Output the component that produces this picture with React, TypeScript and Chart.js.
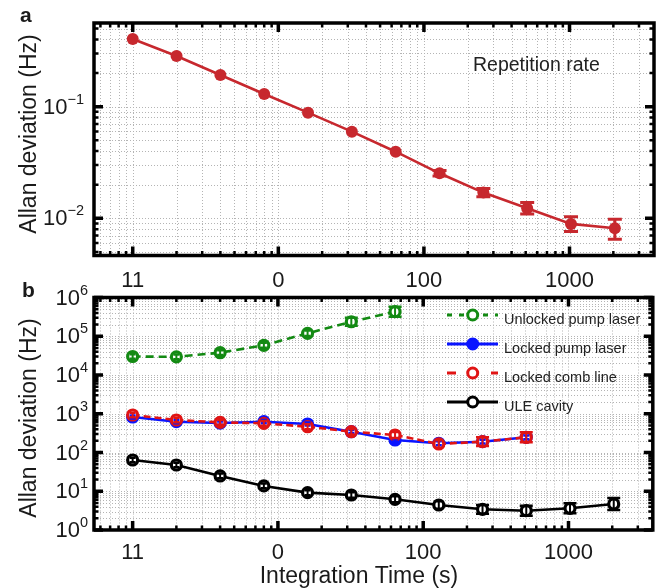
import React, { useEffect, useRef } from 'react';
import { Chart, registerables } from 'chart.js';

Chart.register(...registerables);

const FONT = "'Liberation Sans', Arial, Helvetica, sans-serif";
const TEXT = '#1a1a1a';

// ---------- data ----------
const integrationTime = [1, 2, 4, 8, 16, 32, 64, 128, 256, 512, 1024, 2048];

const repRate = [0.404, 0.284, 0.192, 0.13, 0.0884, 0.0597, 0.0395, 0.0253, 0.017, 0.0123, 0.00891, 0.00815];
const repRateLow = [0.395, 0.278, 0.188, 0.127, 0.0864, 0.0583, 0.0379, 0.0239, 0.0156, 0.01095, 0.0076, 0.00648];
const repRateHigh = [0.413, 0.29, 0.196, 0.133, 0.0904, 0.0611, 0.0411, 0.0268, 0.0185, 0.01384, 0.01035, 0.0098];

const unlockedPump = [30000, 29500, 37600, 58400, 119000, 237000, 430000];
const unlockedPumpErr = [1.15, 1.15, 1.15, 1.16, 1.18, 1.27, 1.35];
const lockedPump = [824, 624, 575, 624, 544, 344, 210, 173, 190, 247];
const lockedPumpErr = [1.1, 1.1, 1.1, 1.1, 1.1, 1.1, 1.1, 1.12, 1.12, 1.12];
const lockedComb = [929, 690, 600, 567, 463, 344, 283, 166, 190, 247];
const lockedCombErr = [1.15, 1.15, 1.15, 1.15, 1.16, 1.18, 1.2, 1.25, 1.3, 1.35];
const uleCavity = [64, 47.6, 24.8, 13.7, 9.2, 8.0, 6.2, 4.42, 3.42, 3.15, 3.63, 4.69];
const uleCavityErr = [1.15, 1.15, 1.15, 1.15, 1.16, 1.18, 1.2, 1.25, 1.3, 1.35, 1.35, 1.43];

const seriesLabels = ['Unlocked pump laser', 'Locked pump laser', 'Locked comb line', 'ULE cavity'];

const xTickValues = [1, 10, 100, 1000];
const xTickLabels = ['11', '0', '100', '1000'];
const yTickValuesA = [0.1, 0.01];
const yTickExpA = ['\u22121', '\u22122'];
const yTickValuesB = [1, 10, 100, 1000, 10000, 100000, 1000000];
const yTickExpB = ['0', '1', '2', '3', '4', '5', '6'];

const xRange = [0.542, 3804];
const yRangeA = [0.004645, 0.5614];
const yRangeB = [1, 1000000];

const yTitle = 'Allan deviation (Hz)';
const xTitle = 'Integration Time (s)';
const panelAText = 'Repetition rate';

// ---------- styles ----------
const RED_A = '#c7282e';
const GREEN = '#138a13';
const BLUE = '#0a14ff';
const RED = '#e01414';
const BLACK = '#000000';

function logValues(min: number, max: number) {
  const out: { v: number; major: boolean }[] = [];
  const k0 = Math.floor(Math.log10(min)) - 1;
  const k1 = Math.ceil(Math.log10(max)) + 1;
  for (let k = k0; k <= k1; k++) {
    for (let m = 1; m <= 9; m++) {
      const v = parseFloat((m * Math.pow(10, k)).toPrecision(6));
      if (v >= min * 0.9999 && v <= max * 1.0001) out.push({ v, major: m === 1 });
    }
  }
  return out;
}

function makePlugin(cfg: any) {
  return {
    id: 'decor',
    beforeDatasetsDraw(chart: any) {
      const ctx = chart.ctx;
      const { left, right, top, bottom } = chart.chartArea;
      const xs = chart.scales.x;
      const ys = chart.scales.y;
      ctx.save();
      ctx.strokeStyle = '#b4b4b4';
      ctx.lineWidth = 1;
      ctx.setLineDash([1, 2]);
      logValues(xs.min, xs.max).forEach((t) => {
        const px = Math.round(xs.getPixelForValue(t.v)) + 0.5;
        ctx.beginPath();
        ctx.moveTo(px, top);
        ctx.lineTo(px, bottom);
        ctx.stroke();
      });
      logValues(ys.min, ys.max).forEach((t) => {
        const py = Math.round(ys.getPixelForValue(t.v)) + 0.5;
        ctx.beginPath();
        ctx.moveTo(left, py);
        ctx.lineTo(right, py);
        ctx.stroke();
      });
      ctx.restore();
    },
    afterDatasetsDraw(chart: any) {
      const ctx = chart.ctx;
      const { left, right, top, bottom } = chart.chartArea;
      const xs = chart.scales.x;
      const ys = chart.scales.y;
      ctx.save();
      // error bars
      chart.data.datasets.forEach((ds: any) => {
        if (!ds.errLow) return;
        ctx.strokeStyle = ds.borderColor;
        ctx.setLineDash([]);
        ds.data.forEach((p: any, i: number) => {
          const px = xs.getPixelForValue(p.x);
          const yl = ys.getPixelForValue(ds.errLow[i]);
          const yh = ys.getPixelForValue(ds.errHigh[i]);
          ctx.lineWidth = cfg.errWidth;
          ctx.beginPath();
          ctx.moveTo(px, yl);
          ctx.lineTo(px, yh);
          ctx.stroke();
          if (Math.abs(yl - yh) > cfg.capMin) {
            const ch = Math.abs(yl - yh) > cfg.capBig ? cfg.capHalf : cfg.capSmall;
            ctx.lineWidth = cfg.capWidth;
            ctx.beginPath();
            ctx.moveTo(px - ch, yl);
            ctx.lineTo(px + ch, yl);
            ctx.moveTo(px - ch, yh);
            ctx.lineTo(px + ch, yh);
            ctx.stroke();
          }
        });
      });
      // frame
      ctx.strokeStyle = '#000';
      ctx.lineWidth = 3.5;
      ctx.strokeRect(left, top, right - left, bottom - top);
      // ticks
      logValues(xs.min, xs.max).forEach((t) => {
        const px = xs.getPixelForValue(t.v);
        const len = t.major ? 9 : 4.5;
        ctx.lineWidth = t.major ? 3.5 : 2.5;
        ctx.beginPath();
        ctx.moveTo(px, bottom);
        ctx.lineTo(px, bottom - len);
        ctx.moveTo(px, top);
        ctx.lineTo(px, top + len);
        ctx.stroke();
      });
      logValues(ys.min, ys.max).forEach((t) => {
        const py = ys.getPixelForValue(t.v);
        const len = t.major ? 9 : 4.5;
        ctx.lineWidth = t.major ? 3.5 : 2.5;
        ctx.beginPath();
        ctx.moveTo(left, py);
        ctx.lineTo(left + len, py);
        ctx.moveTo(right, py);
        ctx.lineTo(right - len, py);
        ctx.stroke();
      });
      // x tick labels
      ctx.fillStyle = TEXT;
      ctx.font = `22px ${FONT}`;
      ctx.textAlign = 'center';
      ctx.textBaseline = 'middle';
      xTickValues.forEach((v, i) => {
        ctx.fillText(xTickLabels[i], xs.getPixelForValue(v), bottom + cfg.xLabelOffset);
      });
      // y tick labels with superscripts
      cfg.yTicks.forEach((v: number, i: number) => {
        const py = ys.getPixelForValue(v);
        ctx.font = `14.5px ${FONT}`;
        const ew = ctx.measureText(cfg.yExp[i]).width;
        ctx.textAlign = 'left';
        ctx.textBaseline = 'middle';
        ctx.fillText(cfg.yExp[i], cfg.yLabelRight - ew, py - 7);
        ctx.font = `22px ${FONT}`;
        ctx.textAlign = 'right';
        ctx.fillText('10', cfg.yLabelRight - ew, py + 1);
      });
      // y title
      ctx.save();
      ctx.translate(cfg.yTitleX, cfg.yTitleY);
      ctx.rotate(-Math.PI / 2);
      ctx.font = `23px ${FONT}`;
      ctx.textAlign = 'center';
      ctx.textBaseline = 'middle';
      ctx.fillText(yTitle, 0, 0);
      ctx.restore();
      // panel letter
      ctx.font = `bold 21px ${FONT}`;
      ctx.textAlign = 'left';
      ctx.textBaseline = 'alphabetic';
      ctx.fillText(cfg.letter, cfg.letterX, cfg.letterY);
      if (cfg.extra) cfg.extra(ctx, chart);
      ctx.restore();
    },
  };
}

function drawLegend(ctx: any) {
  const items = [
    { color: GREEN, dash: [5, 7], fill: '#fff' },
    { color: BLUE, dash: [], fill: BLUE },
    { color: RED, dash: [9, 13], fill: '#fff' },
    { color: BLACK, dash: [], fill: '#fff' },
  ];
  const x0 = 447;
  const x1 = 498;
  const mx = 472.7;
  const rowY = [315, 344, 373, 402];
  items.forEach((it, i) => {
    const y = rowY[i];
    ctx.strokeStyle = it.color;
    ctx.lineWidth = 3;
    ctx.setLineDash(it.dash);
    ctx.beginPath();
    ctx.moveTo(x0, y);
    ctx.lineTo(x1, y);
    ctx.stroke();
    ctx.setLineDash([]);
    ctx.beginPath();
    ctx.arc(mx, y, 5, 0, Math.PI * 2);
    ctx.fillStyle = it.fill;
    ctx.fill();
    ctx.lineWidth = 3;
    ctx.stroke();
    ctx.fillStyle = '#222';
    ctx.font = `14.5px ${FONT}`;
    ctx.textAlign = 'left';
    ctx.textBaseline = 'alphabetic';
    ctx.fillText(seriesLabels[i], 504, y + 8.5);
  });
  // x axis title
  ctx.fillStyle = TEXT;
  ctx.font = `23px ${FONT}`;
  ctx.textAlign = 'center';
  ctx.textBaseline = 'alphabetic';
  ctx.fillText(xTitle, 359, 583);
}

function pts(vals: number[]) {
  return vals.map((y, i) => ({ x: integrationTime[i], y }));
}
function lows(vals: number[], f: number[]) {
  return vals.map((v, i) => v / f[i]);
}
function highs(vals: number[], f: number[]) {
  return vals.map((v, i) => v * f[i]);
}

const baseOptions = (padding: any, yRange: number[]) => ({
  animation: false as const,
  responsive: false,
  devicePixelRatio: 1,
  layout: { padding },
  scales: {
    x: { type: 'logarithmic' as const, min: xRange[0], max: xRange[1], display: false },
    y: { type: 'logarithmic' as const, min: yRange[0], max: yRange[1], display: false },
  },
  plugins: { legend: { display: false }, tooltip: { enabled: false } },
  elements: { line: { tension: 0 } },
});

export default function App() {
  const refA = useRef<HTMLCanvasElement>(null);
  const refB = useRef<HTMLCanvasElement>(null);

  useEffect(() => {
    const chartA = new Chart(refA.current as HTMLCanvasElement, {
      type: 'line',
      data: {
        datasets: [
          {
            label: panelAText,
            data: pts(repRate),
            errLow: repRateLow,
            errHigh: repRateHigh,
            borderColor: RED_A,
            borderWidth: 2.6,
            pointRadius: 6,
            pointBackgroundColor: RED_A,
            pointBorderColor: RED_A,
            pointBorderWidth: 0,
          } as any,
        ],
      },
      options: baseOptions({ left: 94, top: 23, right: 7, bottom: 332.5 }, yRangeA) as any,
      plugins: [
        makePlugin({
          yTicks: yTickValuesA,
          yExp: yTickExpA,
          yLabelRight: 84,
          xLabelOffset: 25,
          yTitleX: 30,
          yTitleY: 134,
          letter: 'a',
          letterX: 20,
          letterY: 22,
          errWidth: 3,
          capHalf: 7,
          capSmall: 7,
          capBig: 0,
          capMin: 5,
          capWidth: 3,
          extra: (ctx: any) => {
            ctx.fillStyle = '#222';
            ctx.font = `19.5px ${FONT}`;
            ctx.textAlign = 'left';
            ctx.textBaseline = 'alphabetic';
            ctx.fillText(panelAText, 473, 71);
          },
        }),
      ],
    });

    const common = { borderWidth: 2.6, pointRadius: 5, pointBorderWidth: 3.2 };
    const chartB = new Chart(refB.current as HTMLCanvasElement, {
      type: 'line',
      data: {
        datasets: [
          {
            label: seriesLabels[0],
            data: pts(unlockedPump),
            errLow: lows(unlockedPump, unlockedPumpErr),
            errHigh: highs(unlockedPump, unlockedPumpErr),
            borderColor: GREEN,
            borderDash: [8, 5],
            pointBorderColor: GREEN,
            pointBackgroundColor: '#fff',
            order: 3,
            ...common,
          } as any,
          {
            label: seriesLabels[1],
            data: pts(lockedPump),
            errLow: lows(lockedPump, lockedPumpErr),
            errHigh: highs(lockedPump, lockedPumpErr),
            borderColor: BLUE,
            pointBorderColor: BLUE,
            pointBackgroundColor: BLUE,
            order: 2,
            ...common,
          } as any,
          {
            label: seriesLabels[2],
            data: pts(lockedComb),
            errLow: lows(lockedComb, lockedCombErr),
            errHigh: highs(lockedComb, lockedCombErr),
            borderColor: RED,
            borderDash: [7, 4],
            pointBorderColor: RED,
            pointBackgroundColor: '#fff',
            order: 1,
            ...common,
          } as any,
          {
            label: seriesLabels[3],
            data: pts(uleCavity),
            errLow: lows(uleCavity, uleCavityErr),
            errHigh: highs(uleCavity, uleCavityErr),
            borderColor: BLACK,
            pointBorderColor: BLACK,
            pointBackgroundColor: '#fff',
            order: 0,
            ...common,
          } as any,
        ],
      },
      options: baseOptions({ left: 94, top: 297.5, right: 7, bottom: 58 }, yRangeB) as any,
      plugins: [
        makePlugin({
          yTicks: yTickValuesB,
          yExp: yTickExpB,
          yLabelRight: 88,
          xLabelOffset: 23,
          yTitleX: 30,
          yTitleY: 418,
          letter: 'b',
          letterX: 22,
          letterY: 297,
          errWidth: 2,
          capHalf: 6.5,
          capSmall: 3,
          capBig: 8,
          capMin: 0,
          capWidth: 2.5,
          extra: (ctx: any) => drawLegend(ctx),
        }),
      ],
    });

    return () => {
      chartA.destroy();
      chartB.destroy();
    };
  }, []);

  const cs: React.CSSProperties = { position: 'absolute', left: 0, top: 0, width: 661, height: 588 };
  return (
    <div style={{ position: 'absolute', left: 0, top: 0, width: 661, height: 588, background: '#fff' }}>
      <canvas ref={refA} width={661} height={588} style={cs} />
      <canvas ref={refB} width={661} height={588} style={cs} />
    </div>
  );
}
